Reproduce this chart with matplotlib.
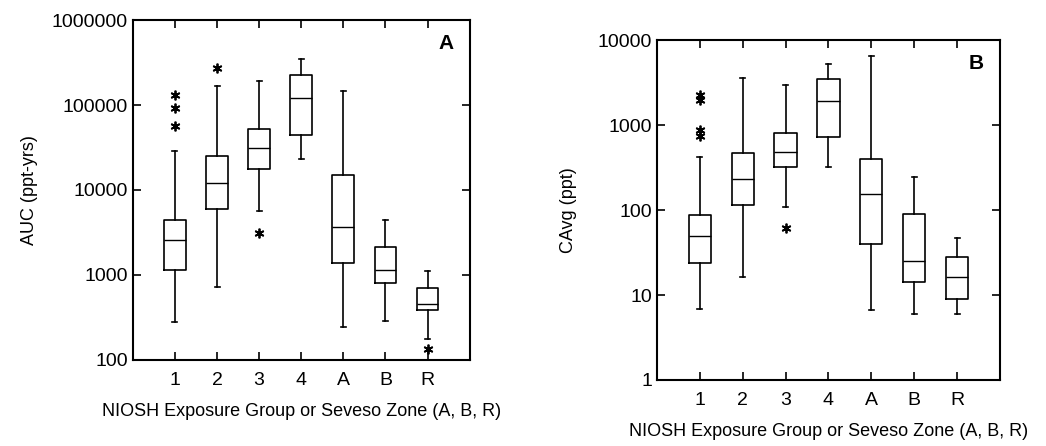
import matplotlib
matplotlib.use("Agg")
import matplotlib.pyplot as plt

plt.rcParams["font.family"] = ["Liberation Sans", "DejaVu Sans"]

# categories
groups = ["1", "2", "3", "4", "A", "B", "R"]

# panel A: AUC (ppt-yrs)
auc_q1 = [1150, 6000, 17700, 44000, 1400, 815, 385]
auc_med = [2600, 12000, 31000, 121000, 3700, 1150, 450]
auc_q3 = [4470, 25000, 52000, 228000, 15200, 2150, 700]
auc_lo = [280, 720, 5600, 23000, 245, 290, 178]
auc_hi = [29000, 166000, 194000, 345000, 148000, 4380, 1120]
auc_out = [[57000, 92000, 131000], [270000], [3100], [], [], [], [134]]
auc_ticks = [100, 1000, 10000, 100000, 1000000]

# panel B: CAvg (ppt)
cavg_q1 = [23.8, 115, 324, 725, 40, 14.2, 9]
cavg_med = [49, 232, 485, 1920, 153, 25.4, 16.4]
cavg_q3 = [88, 475, 810, 3450, 395, 90, 28.3]
cavg_lo = [6.8, 16.4, 108, 320, 6.6, 5.9, 5.9]
cavg_hi = [417, 3580, 2960, 5270, 6480, 243, 47]
cavg_out = [[735, 880, 2000, 2280], [], [61], [], [], [], []]
cavg_ticks = [1, 10, 100, 1000, 10000]


def make_stats(q1, med, q3, lo, hi, out):
    stats = []
    for i in range(len(groups)):
        stats.append(dict(med=med[i], q1=q1[i], q3=q3[i], whislo=lo[i],
                          whishi=hi[i], fliers=out[i], label=groups[i]))
    return stats


def draw_panel(ax, stats, ticks, ylabel, tag, ypad):
    line = dict(color="black", linewidth=1.2)
    ax.bxp(stats, positions=range(1, len(groups) + 1), widths=0.52,
           capwidths=0.12, boxprops=line, whiskerprops=line, capprops=line,
           medianprops=dict(color="black", linewidth=1.0),
           flierprops=dict(marker=(6, 2, 0), markersize=7, markeredgewidth=1.3,
                           markeredgecolor="black", linestyle="none"))
    ax.set_yscale("log")
    ax.set_ylim(ticks[0], ticks[-1])
    ax.set_xlim(0, 8)
    ax.set_yticks(ticks, [str(t) for t in ticks])
    ax.minorticks_off()
    ax.set_xticks(range(1, len(groups) + 1), groups)
    ax.tick_params(direction="in", top=True, right=True, length=6, width=1.2,
                   labelsize=14)
    ax.tick_params(axis="x", pad=9)
    for s in ax.spines.values():
        s.set_linewidth(1.5)
    ax.set_ylabel(ylabel, fontsize=13, labelpad=ypad)
    ax.set_xlabel("NIOSH Exposure Group or Seveso Zone (A, B, R)", fontsize=13,
                  labelpad=10)
    ax.text(0.93, 0.93, tag, transform=ax.transAxes, ha="center", va="center",
            fontsize=15, fontweight="bold")


fig = plt.figure(figsize=(10.46, 4.46), dpi=100)
ax_a = fig.add_axes([0.127, 0.193, 0.322, 0.762])
ax_b = fig.add_axes([0.628, 0.148, 0.328, 0.762])

draw_panel(ax_a, make_stats(auc_q1, auc_med, auc_q3, auc_lo, auc_hi, auc_out),
           auc_ticks, "AUC (ppt-yrs)", "A", 10)
draw_panel(ax_b, make_stats(cavg_q1, cavg_med, cavg_q3, cavg_lo, cavg_hi, cavg_out),
           cavg_ticks, "CAvg (ppt)", "B", 15)

fig.savefig("out.png", dpi=100)
